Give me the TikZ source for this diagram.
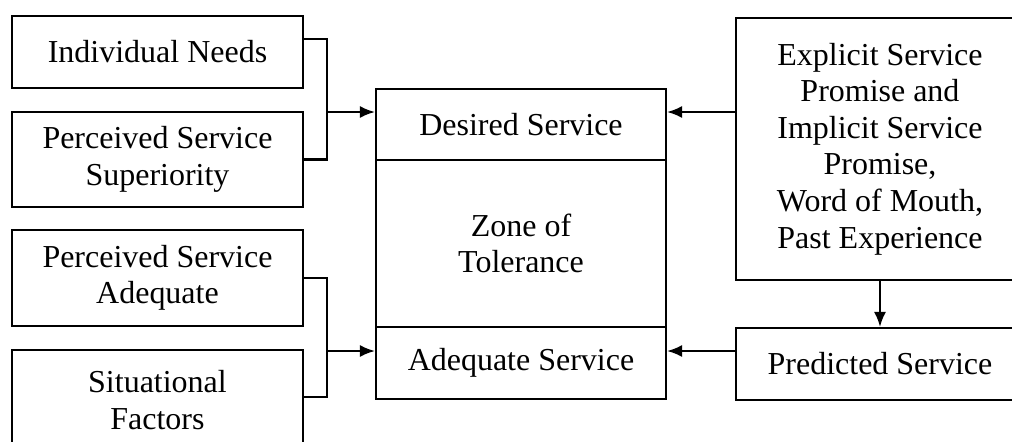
\documentclass[tikz,border=0pt]{standalone}
\usepackage{fontspec}
\setmainfont{Liberation Serif}
\usetikzlibrary{arrows.meta, positioning, calc}

\begin{document}
\begin{tikzpicture}[
    every node/.style={align=center, font=\fontsize{9.1}{10.4}\selectfont},
    factor/.style={draw, minimum width=29.1mm, inner sep=0pt},
    level/.style={draw, minimum width=29mm, inner sep=0pt},
    source/.style={draw, minimum width=28.8mm, inner sep=0pt},
    edge/.style={-{Latex[length=1.5mm,width=1.2mm]}},
    line width=0.6pt
]
\clip (0,0) rectangle (10.12,-4.41);
% left factors
\node[factor, minimum height=7.2mm] (need) at (1.575,-0.52) {Individual Needs};
\node[factor, minimum height=9.5mm] (sup) at (1.575,-1.595) {Perceived Service\\Superiority};
\node[factor, minimum height=9.6mm] (adeq) at (1.575,-2.78) {Perceived Service\\Adequate};
\node[factor, minimum height=10mm] (sit) at (1.575,-4.0) {Situational\\Factors};
% expectation levels
\node[level, minimum height=7.1mm] (des) at (5.21,-1.245) {Desired Service};
\node[level, minimum height=16.7mm] (zone) at (5.21,-2.435) {Zone of\\Tolerance};
\node[level, minimum height=7.2mm] (adq) at (5.21,-3.63) {Adequate Service};
% right sources
\node[source, minimum height=26.2mm] (expl) at (8.80,-1.49) {Explicit Service\\Promise and\\Implicit Service\\Promise,\\Word of Mouth,\\Past Experience};
\node[source, minimum height=7.2mm] (pred) at (8.80,-3.64) {Predicted Service};

\coordinate (j1) at (3.27,-1.12);
\coordinate (j2) at (3.27,-3.51);
\draw ($(need.north east)!0.33!(need.south east)$) -| (j1) |- (sup.east);
\draw[edge] (j1) -- (j1 -| des.west);
\draw (adeq.east) -| (j2) |- ($(sit.north east)+(0,-0.48)$);
\draw[edge] (j2) -- (j2 -| adq.west);
\draw[edge] (expl.west |- j1) -- (j1 -| des.east);
\draw[edge] (pred.west |- j2) -- (j2 -| adq.east);
\draw[edge] (expl) -- (pred);
\end{tikzpicture}
\end{document}
